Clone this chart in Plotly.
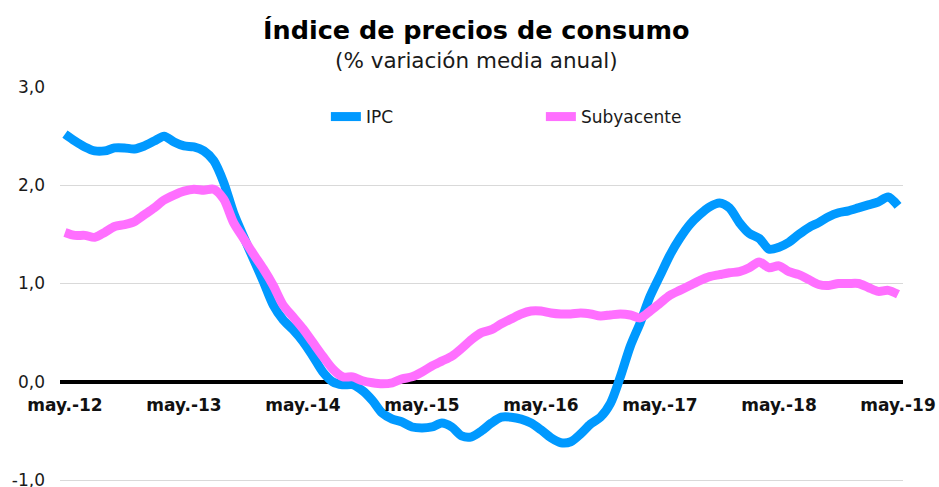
import plotly.graph_objects as go

months = list(range(85))
tick_vals = [0, 12, 24, 36, 48, 60, 72, 84]
tick_text = ["may.-12", "may.-13", "may.-14", "may.-15", "may.-16", "may.-17", "may.-18", "may.-19"]
y_tick_vals = [-1, 0, 1, 2, 3]
y_tick_text = ["-1,0", "0,0", "1,0", "2,0", "3,0"]

ipc = [2.52, 2.45, 2.39, 2.35, 2.35, 2.38, 2.38, 2.37, 2.40, 2.45,
       2.50, 2.44, 2.40, 2.39, 2.35, 2.25, 2.03, 1.72, 1.48, 1.25,
       1.02, 0.78, 0.63, 0.53, 0.41, 0.26, 0.10, 0.00, -0.03, -0.03,
       -0.09, -0.19, -0.32, -0.38, -0.41, -0.46, -0.47, -0.46, -0.42, -0.46,
       -0.55, -0.56, -0.50, -0.42, -0.36, -0.36, -0.38, -0.42, -0.49, -0.57,
       -0.62, -0.61, -0.53, -0.43, -0.36, -0.22, 0.05, 0.36, 0.60, 0.87,
       1.08, 1.29, 1.46, 1.60, 1.70, 1.78, 1.82, 1.77, 1.62, 1.51,
       1.46, 1.35, 1.37, 1.42, 1.50, 1.57, 1.62, 1.68, 1.72, 1.74,
       1.77, 1.80, 1.83, 1.88, 1.79]

subyacente = [1.52, 1.49, 1.49, 1.47, 1.52, 1.58, 1.60, 1.63, 1.70, 1.77,
              1.85, 1.90, 1.94, 1.96, 1.95, 1.96, 1.86, 1.62, 1.46, 1.30,
              1.15, 0.98, 0.78, 0.66, 0.54, 0.40, 0.26, 0.13, 0.05, 0.05,
              0.01, -0.01, -0.02, -0.01, 0.03, 0.05, 0.10, 0.16, 0.21, 0.26,
              0.34, 0.43, 0.50, 0.53, 0.59, 0.64, 0.69, 0.72, 0.72, 0.70,
              0.69, 0.69, 0.70, 0.69, 0.67, 0.68, 0.69, 0.68, 0.65, 0.72,
              0.80, 0.88, 0.93, 0.98, 1.03, 1.07, 1.09, 1.11, 1.12, 1.16,
              1.22, 1.16, 1.18, 1.12, 1.09, 1.04, 0.99, 0.98, 1.00, 1.00,
              1.00, 0.96, 0.92, 0.93, 0.89]

FONT = "DejaVu Sans"
BLUE = "#0099FF"
PINK = "#FF6FFF"

fig = go.Figure()
fig.add_trace(go.Scatter(x=months, y=ipc, name="IPC", mode="lines",
                         line=dict(color=BLUE, width=9, shape="spline", smoothing=0.8)))
fig.add_trace(go.Scatter(x=months, y=subyacente, name="Subyacente", mode="lines",
                         line=dict(color=PINK, width=9, shape="spline", smoothing=0.8)))

# plot area: x 60..903, y 87 (3,0) .. 480 (-1,0)
fig.update_layout(
    width=939, height=487,
    margin=dict(l=60, r=36, t=87, b=5, autoexpand=False),
    paper_bgcolor="white", plot_bgcolor="white",
    font=dict(family=FONT, color="#1a1a1a"),
    showlegend=True,
    legend=dict(orientation="h", x=0.3154, xanchor="left", y=0.924, yanchor="middle",
                font=dict(size=17, family=FONT, color="#1a1a1a"),
                entrywidth=170, bgcolor="rgba(0,0,0,0)", traceorder="normal"),
    xaxis=dict(range=[-0.5, 84.5], tickvals=tick_vals, ticktext=tick_text,
               showgrid=False, zeroline=False, showline=False, ticks="",
               anchor="free", position=1.02 / 4.02, ticklabelstandoff=11, automargin=False,
               tickfont=dict(size=17, family=FONT, color="#111", weight="bold")),
    yaxis=dict(range=[-1.02, 3], tickvals=y_tick_vals, ticktext=y_tick_text, showgrid=True,
               gridcolor="#D9D9D9", gridwidth=1, zeroline=True, automargin=False,
               zerolinecolor="black", zerolinewidth=4, showline=False, ticks="",
               ticklabelstandoff=14, ticklabeloverflow="allow",
               tickfont=dict(size=17, family=FONT, color="#1a1a1a")),
    annotations=[
        dict(text="<b>Índice de precios de consumo</b>", xref="paper", yref="paper",
             x=0.4935, y=(482 - 30) / 395, xanchor="center", yanchor="middle",
             showarrow=False, font=dict(size=25.5, family=FONT, color="black")),
        dict(text="(% variación media anual)", xref="paper", yref="paper",
             x=0.4935, y=(482 - 60) / 395, xanchor="center", yanchor="middle",
             showarrow=False, font=dict(size=21.5, family=FONT, color="#1a1a1a")),
    ],
)

fig.write_html("out.html", config={"displayModeBar": False},
               post_script="document.body.style.margin='0';document.body.style.overflow='hidden';")
